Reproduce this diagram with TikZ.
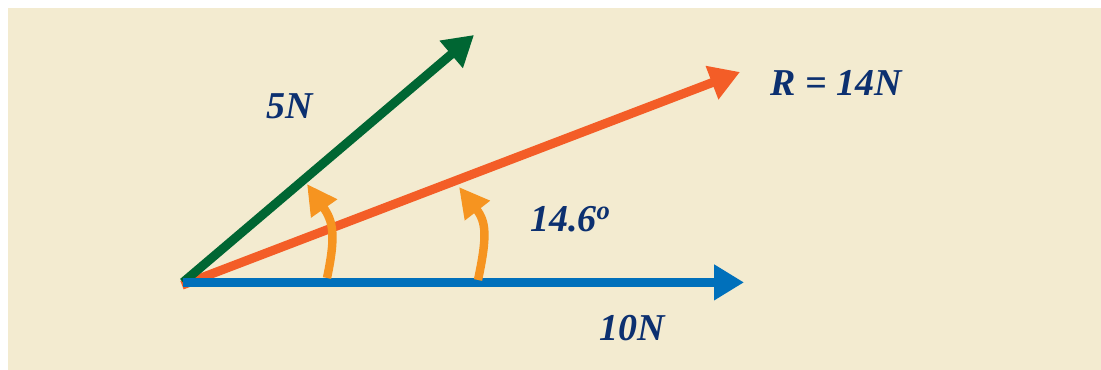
\documentclass[tikz,border=0pt]{standalone}
\usepackage{fontspec}
\setmainfont{Liberation Serif}
\usetikzlibrary{arrows.meta}
\definecolor{paper}{RGB}{243,235,208}
\definecolor{fgreen}{RGB}{0,102,51}
\definecolor{fred}{RGB}{243,93,39}
\definecolor{fblue}{RGB}{0,112,187}
\definecolor{fang}{RGB}{246,148,32}
\definecolor{ink}{RGB}{12,48,112}
\tikzset{
  force/.style={line width=6.4pt,-{Triangle[length=0.75cm,width=0.85cm]}},
  turn/.style={fang,line width=6pt,-{Triangle[length=0.75cm,width=0.75cm]}},
  lbl/.style={ink,font=\fontsize{27}{30}\selectfont\bfseries\itshape,inner sep=0pt}
}
\begin{document}
\begin{tikzpicture}[x=1cm,y=1cm]
\useasboundingbox (0,0) rectangle (27.525,9.25);
\fill[paper] (0.2,0) rectangle (27.525,9.05);
\coordinate (o) at (4.575,2.19);
\coordinate (f1) at (18.6,2.19); \coordinate (f2) at (11.85,8.375);
\coordinate (r) at (18.5,7.45);
\coordinate (a1) at (8.175,2.3); \coordinate (b1) at (7.675,4.65);
\coordinate (a2) at (11.95,2.25); \coordinate (b2) at (11.475,4.575);
\draw[force,fred] (4.55,2.12)--(r);
\draw[force,fgreen] (o)--(f2);
\draw[force,fblue] (o)--(f1);
\draw[turn] (a1) to[out=78,in=-55,looseness=1.2] (b1);
\draw[turn] (a2) to[out=78,in=-52,looseness=1.2] (b2);
\node[lbl] (n5) at (7.25,6.6) {5N};
\node[lbl] (nr) at (20.9,7.175) {R = 14N};
\node[lbl,anchor=base west] (na) at (13.25,3.45) {14.6\textsuperscript{o}};
\node[lbl] (n10) at (15.8,1.05) {10N};
\end{tikzpicture}
\end{document}
